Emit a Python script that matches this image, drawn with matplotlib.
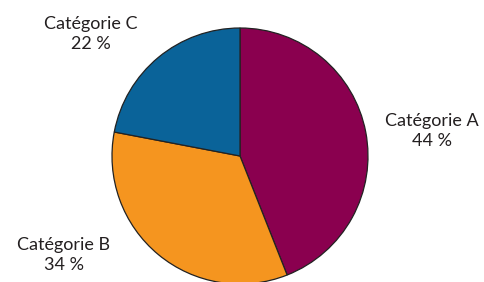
import matplotlib
matplotlib.use("Agg")
import matplotlib.pyplot as plt

categories = ["Catégorie A", "Catégorie B", "Catégorie C"]
values = [44, 34, 22]
colors = ["#8A004F", "#F5951F", "#0A6399"]

plt.rcParams['font.family'] = ['Lato', 'DejaVu Sans']

fig = plt.figure(figsize=(4.85, 2.82), dpi=100)
ax = fig.add_axes([0, 0, 1, 1])

ax.pie(values, colors=colors, startangle=90, counterclock=False,
       center=(240, 126), radius=128, frame=True,
       wedgeprops=dict(edgecolor="#222222", linewidth=0.9))
ax.set_xlim(0, 485)
ax.set_ylim(0, 282)
ax.axis('off')

label_pos = [(432, 151), (64, 27), (91, 248)]
for cat, v, (x, y) in zip(categories, values, label_pos):
    ax.text(x, y, f"{cat}\n{v} %", ha='center', va='center', fontsize=13,
            color="#231F20", linespacing=1.32)

fig.savefig("out.png", dpi=100)
